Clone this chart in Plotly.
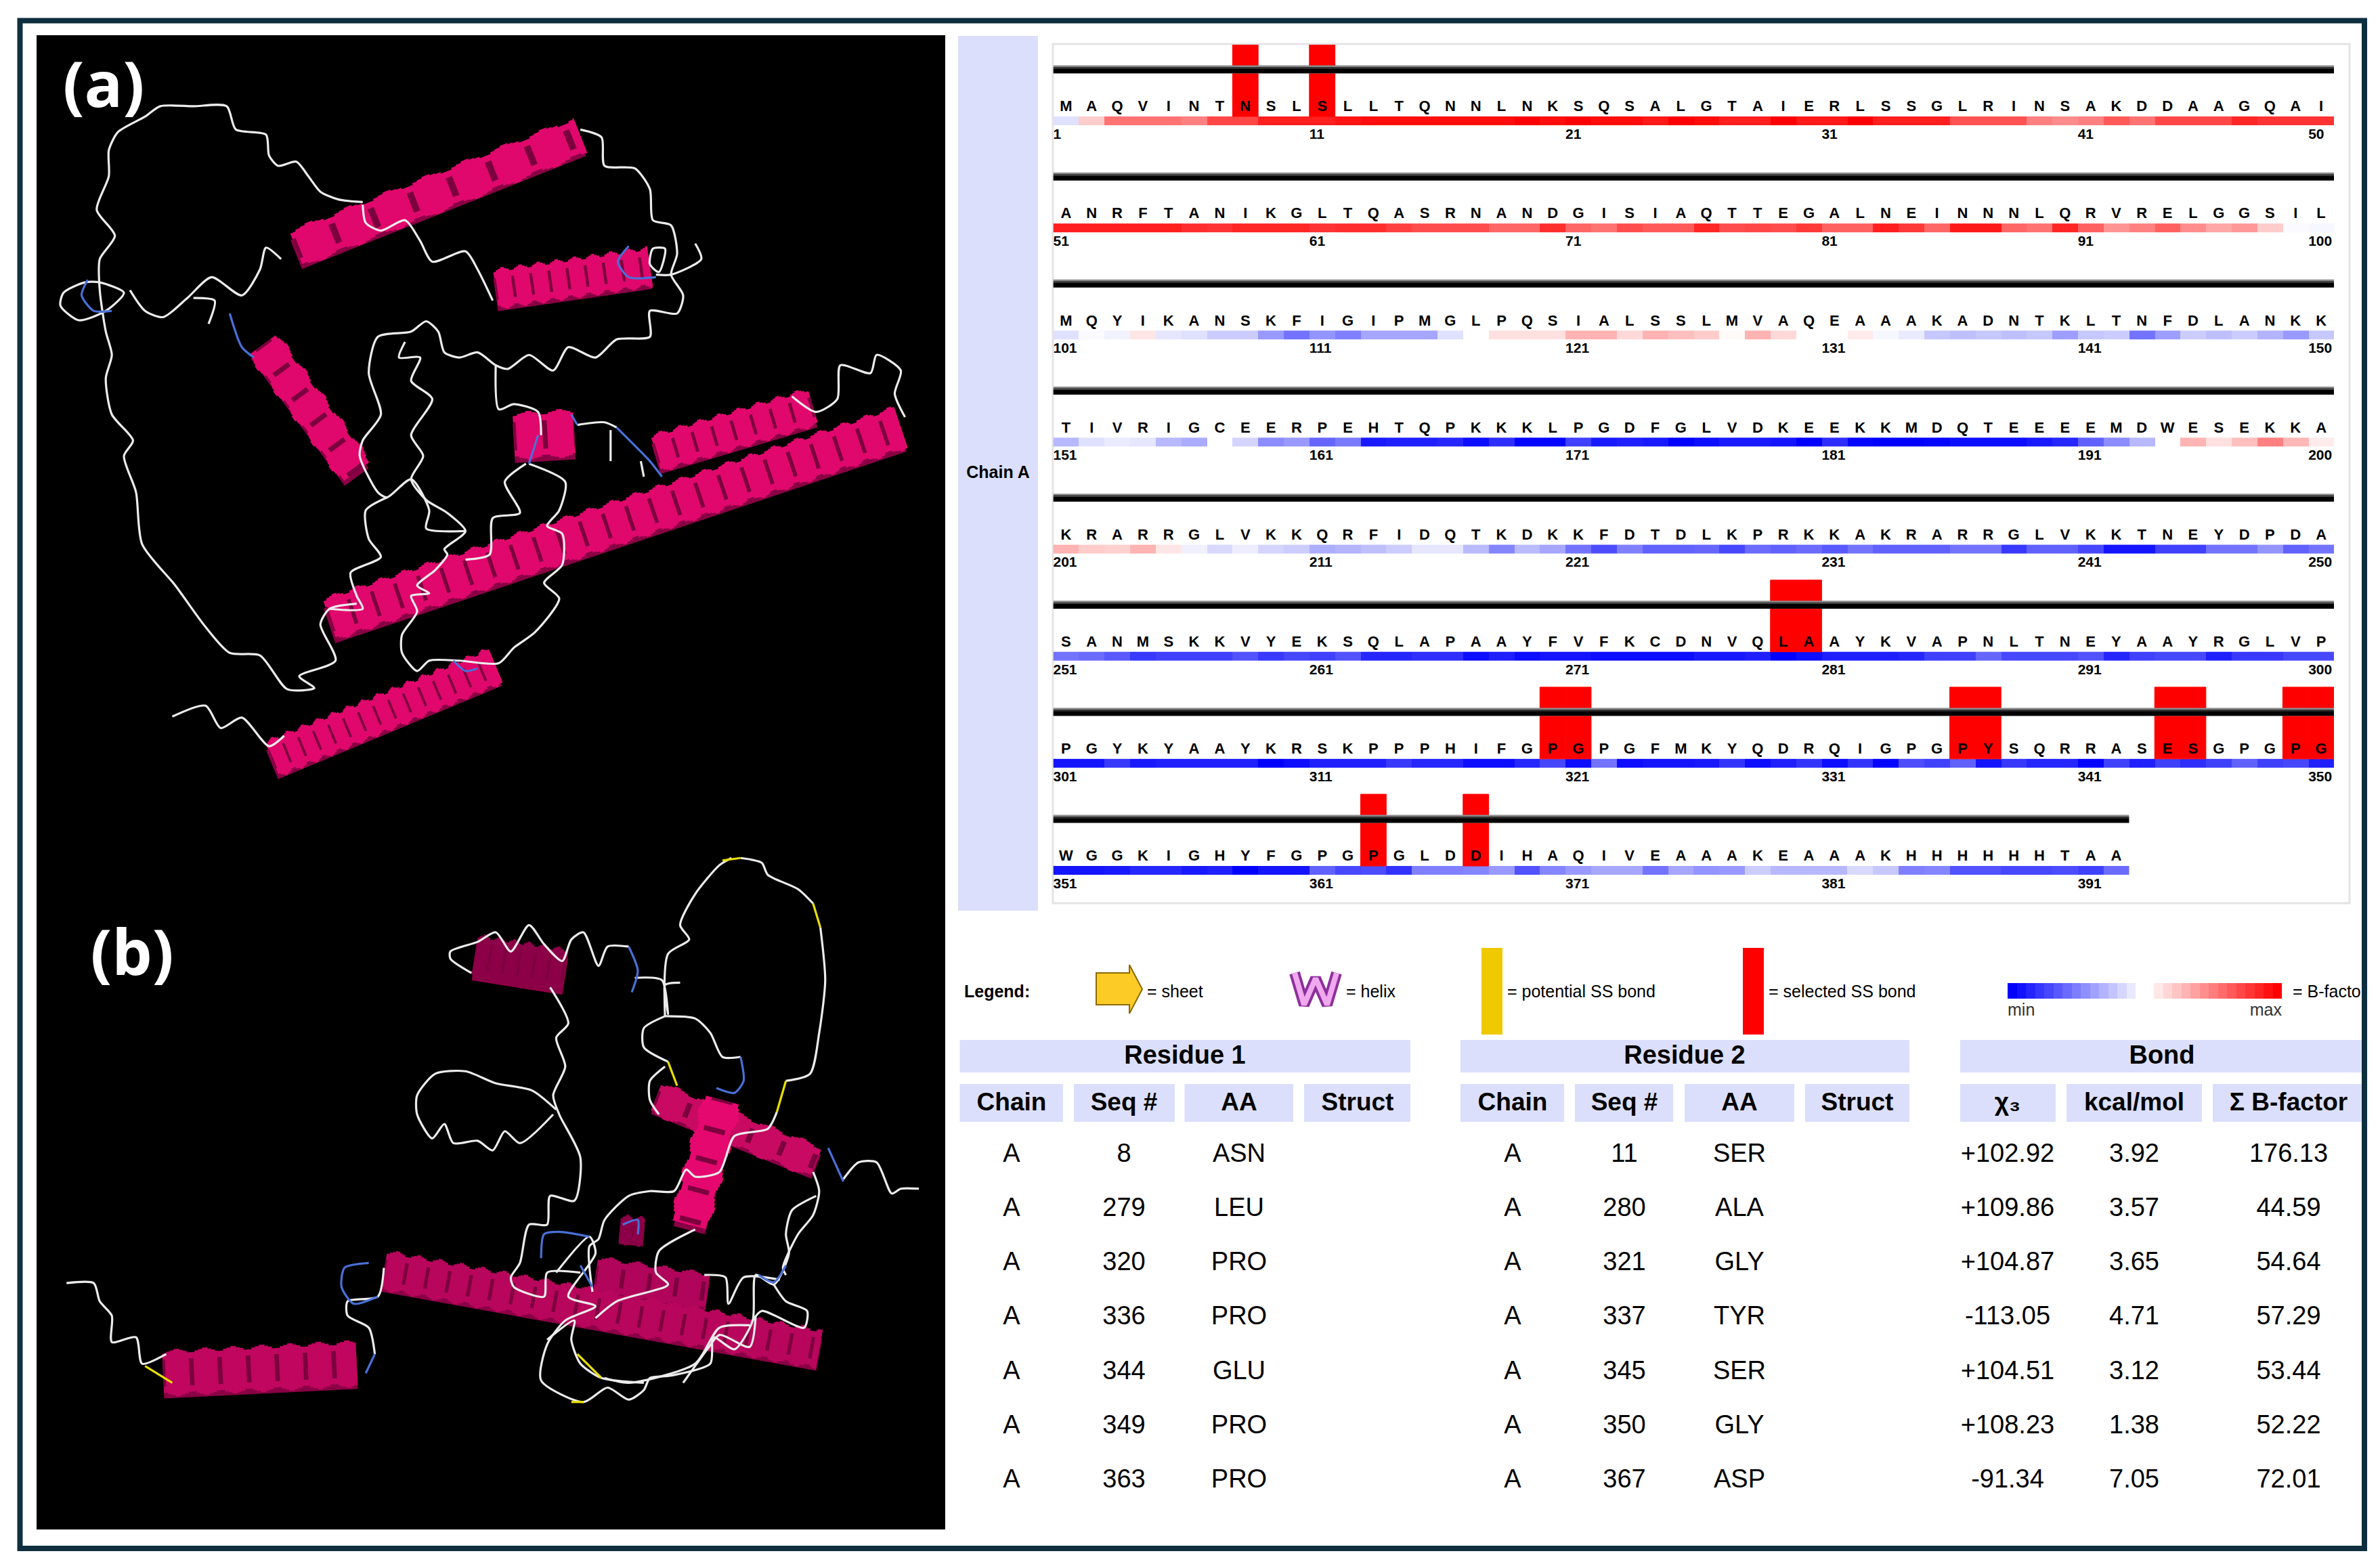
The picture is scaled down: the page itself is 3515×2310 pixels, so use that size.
"""Disulfide by design style figure: two ribbon views, sequence map, bond table."""
import plotly.graph_objects as go

FONT = "Liberation Sans"
TITLE_FONT = "Open Sans"

SEQ_ROWS = [
    "MAQVINTNSLSLLTQNNLNKSQSALGTAIERLSSGLRINSAKDDAAGQAI",
    "ANRFTANIKGLTQASRNANDGISIAQTTEGALNEINNNLQRVRELGGSIL",
    "MQYIKANSKFIGIPMGLPQSIALSSLMVAQEAAAKADNTKLTNFDLANKK",
    "TIVRIGCEERPEHTQPKKKLPGDFGLVDKEEKKMDQTEEEEMDWESEKKA",
    "KRARRGLVKKQRFIDQTKDKKFDTDLKPRKKAKRARRGLVKKTNEYDPDA",
    "SANMSKKVYEKSQLAPAAYFVFKCDNVQLAAYKVAPNLTNEYAAYRGLVP",
    "PGYKYAAYKRSKPPPHIFGPGPGFMKYQDRQIGPGPYSQRRASESGPGPG",
    "WGGKIGHYFGPGPGLDDIHAQIVEAAAKEAAAKHHHHHHTAA",
]

# B-factor shade per residue, -1 = min (blue), +1 = max (red)
BFACTOR_1 = [-.12, .2, .55, .55, .55, .5, .72, .72, .88, .88, .88, .92, .95, .95, .95, .95, .95,
             .95, 1, .95, 1, .95, .95, .9, 1, .95, .88, .88, 1, .9, .9, 1, .88, .88, .88, .68,
             .68, .68, .5, .45, .5, .65, .55, .72, .72, .72, .85, .8, .8, .8]
BFACTOR_2 = [.88, .88, .88, .88, .88, .82, .8, .85, .85, .85, .8, .82, .82, .75, .7, .7, .7, .6,
             .6, .82, .6, .55, .7, .65, .65, .85, .7, .72, .7, .78, .62, .62, .88, .78, .6, .9,
             .9, .6, .55, .85, .62, .42, .5, .62, .45, .35, .4, .2, -.02, -.03]
BFACTOR_3 = [-.12, -.02, -.05, .1, -.1, -.12, -.2, -.2, -.4, -.55, -.42, -.5, -.35, -.35, -.35,
             -.12, 0, .12, .12, .12, .3, .3, .15, .3, .25, .2, .02, .3, .15, 0, 0, .08, -.03,
             -.08, -.22, -.25, -.22, -.25, -.22, -.38, -.22, -.2, -.55, -.38, -.2, -.25, -.2,
             -.3, -.4, -.22]
BFACTOR_4 = [-.28, -.12, -.08, -.1, -.28, -.33, 0, -.17, -.45, -.4, -.6, -.52, -.9, -.88, -.88,
             -.85, -.95, -.82, -.98, -.98, -.75, -.9, -.88, -.9, -1, -.95, -.9, -.9, -.92, -1,
             -.82, -.98, -1, -1, -.98, -.95, -.95, -.95, -.9, -.85, -.62, -.45, -.28, 0, .3,
             .12, .25, .5, .28, .08]
BFACTOR_5 = [.3, .2, .18, .3, .1, -.06, -.15, -.07, -.17, -.2, -.32, -.3, -.25, -.2, -.1, -.1,
             -.27, -.48, -.27, -.35, -.55, -.7, -.5, -.62, -.62, -.6, -.72, -.58, -.62, -.58,
             -.65, -.55, -.62, -.62, -.62, -.55, -.55, -.78, -.62, -.62, -.72, -.92, -.92,
             -.75, -.75, -.55, -.55, -.42, -.62, -.55]
BFACTOR_6 = [-.55, -.58, -.65, -.78, -.75, -.75, -.75, -.68, -.78, -.72, -.75, -.68, -.85, -.85,
             -.82, -.82, -.95, -.88, -.95, -.92, -.92, -.95, -.95, -.95, -.95, -.9, -.9, -.88,
             -1, -.95, -.88, -.88, -.88, -.85, -.75, -.75, -.6, -.72, -.72, -.72, -.68, -.85,
             -.75, -.72, -.72, -.88, -.78, -.78, -.72, -.72]
BFACTOR_7 = [-.92, -.92, -.78, -.9, -.88, -.88, -.88, -.88, -1, -.95, -.88, -.88, -.88, -.78,
             -.85, -.85, -.95, -.95, -.85, -.72, -.95, -.55, -.95, -.92, -.92, -.9, -.8, -.95,
             -.88, -.8, -.95, -.8, -.98, -.7, -.75, -.62, -.92, -.78, -.85, -.85, -.98, -.75,
             -.88, -.75, -.82, -.75, -.62, -.75, -.72, -.88]
BFACTOR_8 = [-.92, -.92, -.9, -.85, -.85, -.9, -.88, -1, -.92, -.92, -.62, -.72, -.7, -.8, -.5,
             -.5, -.48, -.4, -.68, -.48, -.4, -.35, -.35, -.55, -.35, -.42, -.4, -.2, -.28,
             -.28, -.28, -.15, -.22, -.5, -.48, -.68, -.68, -.72, -.72, -.7, -.75, -.58]
BFACTOR_ROWS = [BFACTOR_1, BFACTOR_2, BFACTOR_3, BFACTOR_4, BFACTOR_5, BFACTOR_6, BFACTOR_7, BFACTOR_8]

LEGEND_RAMP = [-1, -.93, -.86, -.79, -.72, -.65, -.58, -.51, -.44, -.37, -.3, -.23, -.16, -.09, 0,
               0, .09, .16, .23, .3, .37, .44, .51, .58, .65, .72, .79, .86, .93, 1]

# bond table
CHAIN_1 = ["A"] * 7
SEQ_1 = [8, 279, 320, 336, 344, 349, 363]
AA_1 = ["ASN", "LEU", "PRO", "PRO", "GLU", "PRO", "PRO"]
CHAIN_2 = ["A"] * 7
SEQ_2 = [11, 280, 321, 337, 345, 350, 367]
AA_2 = ["SER", "ALA", "GLY", "TYR", "SER", "GLY", "ASP"]
CHI3 = ["+102.92", "+109.86", "+104.87", "-113.05", "+104.51", "+108.23", "-91.34"]
KCAL = ["3.92", "3.57", "3.65", "4.71", "3.12", "1.38", "7.05"]
BSUM = ["176.13", "44.59", "54.64", "57.29", "53.44", "52.22", "72.01"]
GROUP_HEADERS = ["Residue 1", "Residue 2", "Bond"]
COLUMN_HEADERS = ["Chain", "Seq #", "AA", "Struct", "Chain", "Seq #", "AA", "Struct",
                  "χ₃", "kcal/mol", "Σ B-factor"]

# helices in crop units: x pair, y pair, thickness, turn spacing
HELIX_A_X = [[490, 960], [820, 1075], [435, 590], [850, 950], [1085, 1345], [545, 1490], [450, 820]]
HELIX_A_Y = [[480, 262], [558, 515], [665, 910], [842, 835], [875, 785], [1195, 825], [1465, 1285]]
HELIX_A_W = [50, 52, 48, 62, 50, 58, 50]
HELIX_A_PITCH = [62, 27, 46, 46, 30, 36, 24]
HELIX_B_X = [[785, 935], [1085, 1350], [1195, 1140], [1025, 1065], [985, 1170], [635, 1355], [270, 590]]
HELIX_B_Y = [[300, 330], [595, 730], [600, 860], [870, 875], [965, 1000], [955, 1120], [1170, 1150]]
HELIX_B_W = [58, 42, 52, 36, 48, 52, 60]
HELIX_B_PITCH = [22, 50, 46, 20, 40, 32, 42]
HELIX_B_COLOR = ["#8c0048", "#c80a62", "#e5086e", "#8c0048", "#b0055a", "#b8065c", "#c0065e"]

COIL_A_WHITE = [
    [(600, 390), (560, 385), (530, 370), (510, 340), (490, 312), (460, 320), (445, 300), (440, 260),
     (390, 250), (375, 205), (320, 205), (265, 205), (240, 225), (195, 255), (180, 290), (180, 340),
     (160, 405), (190, 455), (165, 500), (165, 560), (175, 640), (185, 685), (175, 730), (185, 800),
     (220, 850), (205, 880), (225, 950), (235, 1050), (290, 1130), (340, 1210), (380, 1260),
     (430, 1265), (475, 1330), (520, 1328), (495, 1305), (555, 1275), (530, 1205), (545, 1175), (590, 1165)],
    [(215, 560), (240, 600), (270, 612), (310, 575), (350, 535), (400, 570), (430, 520), (440, 478), (465, 500)],
    [(140, 545), (105, 565), (100, 590), (130, 618), (175, 600), (205, 565), (165, 545), (140, 545)],
    [(345, 625), (355, 580), (320, 575)],
    [(600, 395), (605, 430), (630, 445), (670, 425), (695, 465), (715, 505), (770, 485), (790, 520), (815, 580)],
    [(960, 250), (995, 265), (1000, 320), (1050, 325), (1075, 365), (1080, 425), (1110, 435), (1120, 490),
     (1110, 530), (1130, 570), (1120, 605), (1075, 600), (1075, 650), (1020, 655), (985, 690), (940, 670),
     (915, 715), (875, 685), (840, 712), (820, 705), (790, 680), (760, 690), (735, 680), (725, 640),
     (705, 620), (680, 640), (625, 650), (610, 720), (630, 800), (600, 850), (595, 880), (625, 950),
     (640, 960), (680, 925), (710, 985), (705, 1020), (770, 1025)],
    [(820, 705), (825, 790), (850, 780), (890, 795), (895, 840)],
    [(875, 895), (935, 930), (925, 985), (905, 1015), (930, 1030), (930, 1090), (900, 1125), (925, 1155),
     (885, 1220), (850, 1250), (825, 1280), (760, 1275), (710, 1275), (690, 1295), (665, 1260), (665, 1225),
     (690, 1180), (680, 1150), (710, 1145), (690, 1130), (720, 1100), (740, 1070), (735, 1060), (770, 1025),
     (740, 990), (705, 965), (680, 925), (700, 880), (680, 840), (715, 770), (680, 735), (695, 690),
     (660, 690), (670, 660)],
    [(640, 960), (605, 985), (610, 1040), (630, 1075), (580, 1105), (590, 1150), (600, 1175), (545, 1175)],
    [(770, 1080), (810, 1070), (815, 1000), (860, 990), (835, 930), (870, 895)],
    [(1085, 530), (1110, 530), (1160, 500), (1150, 470)],
    [(1080, 480), (1075, 510), (1090, 525), (1100, 480), (1080, 480)],
    [(955, 820), (1000, 815), (1020, 825)],
    [(1010, 830), (1010, 890)],
    [(1060, 890), (1065, 920)],
    [(1310, 765), (1350, 795), (1385, 770), (1390, 705), (1440, 720), (1450, 685), (1490, 715), (1480, 760), (1497, 805)],
    [(285, 1383), (340, 1362), (365, 1405), (400, 1385), (445, 1440), (470, 1420)],
]
COIL_A_BLUE = [
    [(145, 540), (135, 570), (155, 600), (185, 600)],
    [(380, 605), (400, 670), (420, 690)],
    [(1040, 475), (1022, 505), (1040, 535), (1085, 535)],
    [(945, 800), (955, 820)],
    [(1020, 825), (1050, 860), (1075, 890), (1095, 920)],
    [(890, 840), (875, 895)],
    [(750, 1275), (770, 1295), (790, 1290)],
]
COIL_B_WHITE = [
    [(110, 982), (155, 982), (165, 1020), (185, 1050), (185, 1105), (225, 1095), (235, 1150), (275, 1130)],
    [(635, 950), (625, 1010), (575, 1020), (575, 1050), (610, 1075), (620, 1130)],
    [(780, 335), (745, 305), (745, 290), (790, 270), (820, 250), (845, 290), (875, 235), (900, 275),
     (930, 310), (945, 265), (965, 250), (990, 320), (1005, 280), (1040, 280)],
    [(1050, 345), (1095, 350), (1105, 420), (1100, 360), (1125, 355)],
    [(1100, 425), (1105, 295), (1140, 265), (1125, 235), (1150, 170), (1190, 110), (1210, 95)],
    [(1225, 95), (1260, 105), (1270, 130), (1320, 160), (1345, 190)],
    [(1357, 240), (1365, 350), (1355, 460), (1340, 545), (1300, 560)],
    [(1285, 625), (1270, 660), (1215, 675), (1190, 750), (1150, 760), (1135, 745), (1115, 790), (1075, 790),
     (1040, 800), (1000, 850), (990, 890), (975, 905), (980, 1000)],
    [(1100, 425), (1065, 450), (1065, 490), (1105, 520)],
    [(1100, 530), (1075, 560), (1075, 600), (1090, 630)],
    [(1100, 425), (1150, 430), (1175, 460), (1195, 510), (1225, 510)],
    [(910, 365), (940, 440), (920, 470), (935, 530), (915, 590), (925, 630), (960, 720), (950, 810), (910, 800),
     (905, 860), (875, 860), (860, 940), (845, 970), (850, 990), (900, 1010), (905, 960), (960, 960)],
    [(920, 620), (880, 580), (820, 565), (770, 540), (720, 545), (690, 590), (690, 630), (715, 680), (735, 650),
     (750, 690), (790, 685), (815, 705), (835, 665), (860, 690), (915, 630)],
    [(1395, 765), (1420, 730), (1450, 730), (1475, 795), (1490, 785), (1520, 785)],
    [(1345, 750), (1355, 790), (1345, 840), (1320, 880), (1295, 950), (1300, 965)],
    [(1350, 800), (1310, 830), (1300, 880), (1305, 920), (1280, 985), (1250, 965), (1245, 1060), (1215, 1120),
     (1180, 1095), (1175, 1150), (1110, 1175), (1075, 1180), (1065, 1205), (1040, 1225), (1005, 1200), (965, 1230),
     (895, 1185), (905, 1110), (935, 1060), (985, 1030), (940, 1010), (985, 920), (975, 885), (920, 960)],
    [(1280, 985), (1300, 1020), (1335, 1040), (1330, 1075), (1260, 1040), (1245, 1060)],
    [(1240, 1070), (1190, 1075), (1150, 1150), (1040, 1190), (1000, 1180)],
    [(1165, 965), (1200, 970), (1205, 1025), (1230, 970), (1290, 975)],
    [(1150, 870), (1090, 915), (1085, 960), (1105, 985), (1020, 1020), (985, 1055)],
    [(1130, 1190), (1170, 1120), (1190, 1090), (1240, 1115), (1250, 1050)],
    [(905, 1100), (950, 1060), (945, 1100), (960, 1150), (995, 1180), (1065, 1190)],
]
COIL_B_BLUE = [
    [(610, 940), (570, 950), (565, 990), (585, 1025), (625, 1010)],
    [(620, 1130), (605, 1170)],
    [(1040, 280), (1055, 330), (1045, 375)],
    [(1225, 510), (1230, 560), (1215, 585), (1185, 575)],
    [(1370, 700), (1395, 770)],
    [(895, 930), (900, 880), (925, 875), (975, 885)],
    [(960, 945), (980, 990)],
    [(1030, 860), (1055, 850), (1055, 880)],
    [(1255, 965), (1280, 980), (1300, 945)],
]
COIL_B_YELLOW = [
    [(240, 1155), (285, 1190)],
    [(1195, 100), (1225, 95)],
    [(1345, 190), (1357, 240)],
    [(1300, 560), (1285, 625)],
    [(1105, 520), (1120, 570)],
    [(955, 1130), (995, 1180)],
    [(945, 1230), (965, 1230)],
]

BAND = "#dcdffb"
PAGE_W, PAGE_H = 3515, 2310
CELL = 37.83
SEQ_LEFT = 1555.5
SEQ_TOP, ROW_PITCH = 66, 158.15
BFACTOR_SCALE = [[0, "#0000ff"], [0.5, "#ffffff"], [1, "#ff0000"]]


def hidden_axis(**kw):
    return dict(visible=False, fixedrange=True, showgrid=False, zeroline=False, **kw)


def paths_to_xy(paths):
    xs, ys = [], []
    for path in paths:
        xs += [p[0] for p in path] + [None]
        ys += [p[1] for p in path] + [None]
    return xs, ys


def add_coils(fig, paths, color, axes, width=3.2):
    xs, ys = paths_to_xy(paths)
    fig.add_trace(go.Scatter(x=xs, y=ys, mode="lines", xaxis=axes[0], yaxis=axes[1],
                             line=dict(color=color, width=width, shape="spline", smoothing=0.7)))


def centred_dash(on, period):
    gap = (period - on) / 2
    return f"0px,{gap:.1f}px,{on:.1f}px,{gap:.1f}px"


def add_helix(fig, x, y, width, pitch, color, axes):
    # shadow on the lower edge, body, stepped saw teeth, dark turn marks
    common = dict(x=x, mode="lines", xaxis=axes[0], yaxis=axes[1])
    shadow_y = [v + width * 0.22 for v in y]
    fig.add_trace(go.Scatter(**common, y=shadow_y, line=dict(color="#8a0044", width=width - 4)))
    fig.add_trace(go.Scatter(**common, y=y, line=dict(color=color, width=width - 2)))
    for extra, on in [(3, 0.72), (6, 0.46), (10, 0.2)]:
        fig.add_trace(go.Scatter(**common, y=y, line=dict(color=color, width=width + extra,
                                                          dash=centred_dash(pitch * on, pitch))))
    mark = pitch * 0.08
    fig.add_trace(go.Scatter(**common, y=y, line=dict(color="#7c003e", width=width - 20,
                                                      dash=f"{mark:.1f}px,{pitch - 2 * mark:.1f}px,{mark:.1f}px,0px")))


def add_text(fig, x, y, text, size, bold=False, color="black", family=FONT, position="middle center", axes=("x", "y")):
    fig.add_trace(go.Scatter(
        x=x, y=y, text=text, mode="text", textposition=position, xaxis=axes[0], yaxis=axes[1],
        textfont=dict(family=family, size=size, color=color, weight="bold" if bold else "normal"),
    ))


fig = go.Figure()
page = ("x", "y")
seq_axes = ("x2", "y2")
panel_a = ("x3", "y3")
panel_b = ("x4", "y4")

# ribbon views
for i in range(len(HELIX_A_X)):
    add_helix(fig, HELIX_A_X[i], HELIX_A_Y[i], HELIX_A_W[i], HELIX_A_PITCH[i], "#e0086c", panel_a)
add_coils(fig, COIL_A_WHITE, "#ececec", panel_a)
add_coils(fig, COIL_A_BLUE, "#4a70d8", panel_a)
for i in range(len(HELIX_B_X)):
    add_helix(fig, HELIX_B_X[i], HELIX_B_Y[i], HELIX_B_W[i], HELIX_B_PITCH[i], HELIX_B_COLOR[i], panel_b)
add_coils(fig, COIL_B_WHITE, "#ececec", panel_b)
add_coils(fig, COIL_B_BLUE, "#4a70d8", panel_b)
add_coils(fig, COIL_B_YELLOW, "#e8e000", panel_b)

# sequence map: x is the residue column, y the row
HEAT_TOP, HEAT_H = 0.670, 0.083
for r, values in enumerate(BFACTOR_ROWS):
    fig.add_trace(go.Heatmap(z=[values], x0=1, dx=1, y0=r + HEAT_TOP + HEAT_H / 2, dy=HEAT_H, zmin=-1, zmax=1,
                             colorscale=BFACTOR_SCALE, showscale=False, hoverinfo="skip",
                             xaxis="x2", yaxis="y2"))

bond_residues = sorted(SEQ_1 + SEQ_2)
fig.add_trace(go.Bar(
    x=[(n - 1) % 50 + 1 for n in bond_residues],
    base=[(n - 1) // 50 for n in bond_residues],
    y=[HEAT_TOP] * len(bond_residues),
    width=1.0, marker=dict(color="#ff0000", line=dict(width=1, color="#ff0000")),
    xaxis="x2", yaxis="y2",
))

for offset, shade, lw in [(0.231, "#8a8a8a", 12), (0.215, "#333333", 2), (0.245, "#000000", 7)]:
    xs, ys = [], []
    for r, seq in enumerate(SEQ_ROWS):
        xs += [0.5, len(seq) + 0.5, None]
        ys += [r + offset, r + offset, None]
    fig.add_trace(go.Scatter(x=xs, y=ys, mode="lines", line=dict(color=shade, width=lw), xaxis="x2", yaxis="y2"))

letter_x, letter_y, letter_t = [], [], []
tick_x, tick_y, tick_t = [], [], []
for r, seq in enumerate(SEQ_ROWS):
    for c, aa in enumerate(seq):
        letter_x.append(c + 1)
        letter_y.append(r + 0.587)
        letter_t.append(aa)
    first = r * 50 + 1
    numbers = [first + k for k in range(0, len(seq), 10)]
    if len(seq) == 50:
        numbers.append(first + 49)
    for n in numbers:
        tick_x.append(n - first + 0.5)
        tick_y.append(r + 0.845)
        tick_t.append(str(n))
add_text(fig, letter_x, letter_y, letter_t, 22, bold=True, axes=seq_axes)
add_text(fig, tick_x, tick_y, tick_t, 21, bold=True, position="middle right", axes=seq_axes)

# legend row
add_text(fig, [1424], [1467], ["Legend:"], 25, bold=True, position="middle right")
add_text(fig, [1694, 1988, 2226, 2612, 3386], [1467] * 5,
         ["= sheet", "= helix", "= potential SS bond", "= selected SS bond", "= B-facto"], 25, position="middle right")
add_text(fig, [2965], [1494], ["min"], 25, position="middle right", color="#333333")
add_text(fig, [3370], [1494], ["max"], 25, position="middle left", color="#333333")
fig.add_trace(go.Heatmap(z=[LEGEND_RAMP], x0=2965 + 405 / 60, dx=405 / 30, y0=1463.5, dy=23, zmin=-1, zmax=1,
                         colorscale=BFACTOR_SCALE, showscale=False, hoverinfo="skip", xaxis="x", yaxis="y"))
fig.add_trace(go.Scatter(x=[1912, 1926, 1943, 1960, 1974], y=[1437, 1484, 1445, 1484, 1437], mode="lines",
                         line=dict(color="#8d2f9c", width=16), xaxis="x", yaxis="y"))
fig.add_trace(go.Scatter(x=[1912, 1926, 1943, 1960, 1974], y=[1437, 1484, 1445, 1484, 1437], mode="lines",
                         line=dict(color="#f0a8ee", width=8), xaxis="x", yaxis="y"))

# bond table
ROW_Y = [1706 + 80.3 * i for i in range(7)]
COLUMN_X = [1494, 1660, 1830, 2005, 2234, 2399, 2569, 2743, 2965, 3152, 3380]
add_text(fig, [1750, 2488, 3193], [1561] * 3, GROUP_HEADERS, 38, bold=True)
add_text(fig, COLUMN_X, [1631] * 11, COLUMN_HEADERS, 37, bold=True)
table_columns = [(0, CHAIN_1), (1, SEQ_1), (2, AA_1), (4, CHAIN_2), (5, SEQ_2), (6, AA_2),
                 (8, CHI3), (9, KCAL), (10, BSUM)]
for col, values in table_columns:
    add_text(fig, [COLUMN_X[col]] * len(values), ROW_Y, [str(v) for v in values], 38)

# panel letters
add_text(fig, [153], [134], ["(a)"], 94, bold=True, color="white", family=TITLE_FONT)
add_text(fig, [195], [1416], ["(b)"], 94, bold=True, color="white", family=TITLE_FONT)
add_text(fig, [1474], [700], ["Chain A"], 25, bold=True)


def rect(x0, y0, x1, y1, fill, layer="below", line=None):
    return dict(type="rect", xref="x", yref="y", x0=x0, y0=y0, x1=x1, y1=y1, fillcolor=fill, layer=layer,
                line=line or dict(width=0))


shapes = [
    rect(54, 52, 1396, 2259, "#000000"),
    rect(1415, 53, 1533, 1345, BAND),
    rect(1555, 65, 3470, 1334, "#ffffff", line=dict(color="#e4e4e4", width=3)),
    rect(2188, 1400, 2219, 1528, "#eec900"),
    rect(2574, 1400, 2605, 1528, "#ff0000"),
    rect(1417.5, 1536, 2083, 1584, BAND),
    rect(2157, 1536, 2820, 1584, BAND),
    rect(2895, 1536, 3490, 1584, BAND),
    dict(type="path", xref="x", yref="y", layer="below", line=dict(color="#8a6a00", width=2), fillcolor="#fdcb25",
         path="M 1619 1437 L 1668 1437 L 1668 1425 L 1687 1461 L 1668 1497 L 1668 1484 L 1619 1484 Z"),
    rect(29.5, 30.5, 3492, 2287, "rgba(0,0,0,0)", layer="above", line=dict(color="#0e2f3e", width=8)),
]
for x0, x1 in [(1417.5, 1570), (1586, 1735), (1749.5, 1910), (1926, 2083), (2157, 2310), (2326, 2471),
               (2488, 2650), (2666, 2820), (2895, 3036), (3052, 3252), (3268, 3490)]:
    shapes.append(rect(x0, 1601, x1, 1657, BAND))

fig.update_layout(
    width=PAGE_W, height=PAGE_H, margin=dict(l=0, r=0, t=0, b=0, pad=0),
    autosize=False, showlegend=False, hovermode=False, barmode="overlay",
    paper_bgcolor="white", plot_bgcolor="rgba(0,0,0,0)", shapes=shapes,
    xaxis=hidden_axis(domain=[0, 1], range=[0, PAGE_W], anchor="y"),
    yaxis=hidden_axis(domain=[0, 1], range=[PAGE_H, 0], anchor="x"),
    xaxis2=hidden_axis(domain=[SEQ_LEFT / PAGE_W, (SEQ_LEFT + 50 * CELL) / PAGE_W], range=[0.5, 50.5], anchor="y2"),
    yaxis2=hidden_axis(domain=[1 - (SEQ_TOP + 8 * ROW_PITCH) / PAGE_H, 1 - SEQ_TOP / PAGE_H], range=[8, 0], anchor="x2"),
    xaxis3=hidden_axis(domain=[0, 1400 / PAGE_W], range=[0, 1568], anchor="y3"),
    yaxis3=hidden_axis(domain=[1 - 1200 / PAGE_H, 1], range=[1568, 0], anchor="x3"),
    xaxis4=hidden_axis(domain=[0, 1400 / PAGE_W], range=[0, 1568], anchor="y4"),
    yaxis4=hidden_axis(domain=[0, 1 - 1200 / PAGE_H], range=[1568, 0], anchor="x4"),
)
# the browser's default body margin would push the page 8px off
fig.write_html("out.html", config={"displayModeBar": False}, post_script="document.body.style.margin='0';")
